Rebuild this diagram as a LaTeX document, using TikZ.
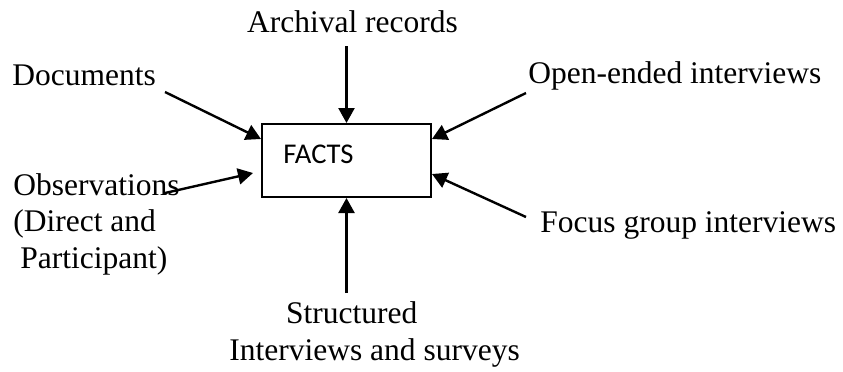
\documentclass[tikz,border=0pt]{standalone}
\usepackage{fontspec}
\setmainfont{Liberation Serif}
\newfontfamily\factsfont{Carlito}
\usetikzlibrary{arrows.meta,positioning}

\begin{document}
\begin{tikzpicture}[x=0.5pt,y=-0.5pt, every text node part/.style={align=left}]
        \tikzset{
          srcstyle/.style={inner sep=0pt,anchor=base west,font=\fontsize{15.75}{18.25}\selectfont},
          feed/.style={line width=1.2pt,-{Triangle[length=7.5pt,width=8pt]}},
        }
        \useasboundingbox (0,0) rectangle (843,371);
        \node [draw,line width=1pt,minimum width=84.5pt,minimum height=36.5pt,inner sep=0pt] (facts) at (346.5,160.5) {};
        \node [inner sep=0pt,anchor=base west,font=\factsfont\fontsize{14.3}{17}\selectfont] (factstext) at (283,163) {FACTS};
        % sources (multi-line nodes sit on their last line)
        \node [srcstyle,anchor=base] (archival) at (352.5,32) {Archival records};
        \node [srcstyle] (documents) at (12,85) {Documents};
        \node [srcstyle] (openended) at (528,83) {Open-ended interviews};
        \node [srcstyle] (observations) at (13,268) {Observations\\(Direct and\\\hspace*{0.22em}Participant)};
        \node [srcstyle] (focus) at (540,232) {Focus group interviews};
        \node [srcstyle] (structured) at (229,360) {\hspace*{1.8em}Structured\\Interviews and surveys};
        % tails
        \coordinate (archivalend) at (346.5,46);
        \coordinate (documentsend) at (165,92);
        \coordinate (openendedend) at (526,93);
        \coordinate (observationsend) at (165,193);
        \coordinate (focusend) at (526,217);
        \coordinate (structuredend) at (346.5,293);
        % tips
        \coordinate (documentstip) at (facts.west |- 0,139);
        \coordinate (openendedtip) at (facts.east |- 0,139);
        \coordinate (observationstip) at (253,173);
        \coordinate (focustip) at (facts.east |- 0,174);
        % 
        \draw [feed] (archivalend) -- (facts.north);
        \draw [feed] (documentsend) -- (documentstip);
        \draw [feed] (openendedend) -- (openendedtip);
        \draw [feed] (observationsend) -- (observationstip);
        \draw [feed] (focusend) -- (focustip);
        \draw [feed] (structuredend) -- (facts.south);
    \end{tikzpicture}
\end{document}
